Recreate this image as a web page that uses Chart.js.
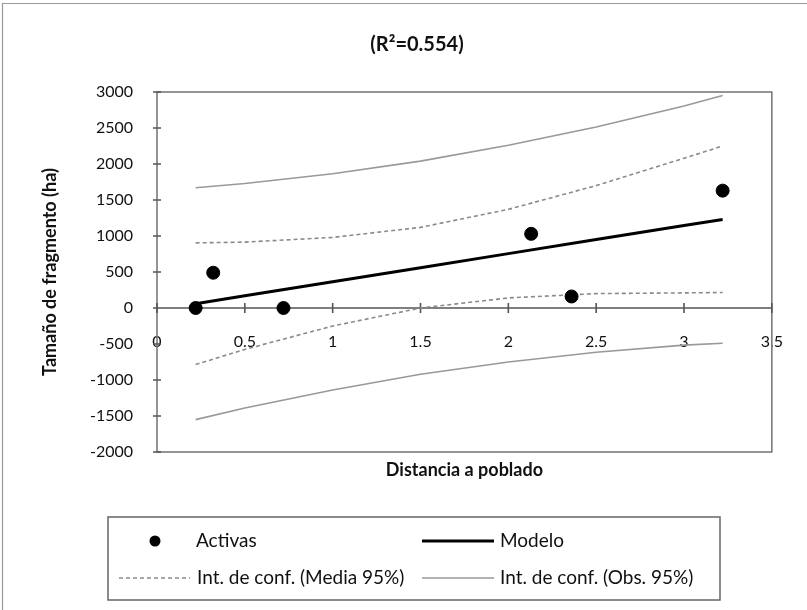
<!DOCTYPE html>
<html>
<head>
<meta charset="utf-8">
<title>Tamaño de fragmento</title>
<script src="https://cdn.jsdelivr.net/npm/chart.js@4.4.1/dist/chart.umd.min.js"></script>
<style>
  html, body { margin: 0; padding: 0; background: #fff; }
  canvas { display: block; }
</style>
</head>
<body>
<canvas id="myChart" width="807" height="610"></canvas>
<script>
// fragmentos activos
var distActivas = [0.22, 0.32, 0.72, 2.13, 2.36, 3.22];
var sizeActivas = [0, 490, 0, 1030, 160, 1630];

// modelo y bandas de confianza, leidos a lo largo de la distancia
var distModelo = [0.22, 0.5, 1.0, 1.5, 2.0, 2.5, 3.0, 3.22];
var sizeModelo = [60, 170, 365, 560, 755, 950, 1145, 1230];
var mediaSup = [905, 915, 980, 1120, 1370, 1700, 2080, 2250];
var mediaInf = [-785, -575, -250, 0, 140, 200, 210, 215];
var obsSup = [1670, 1730, 1865, 2040, 2260, 2515, 2805, 2950];
var obsInf = [-1550, -1390, -1140, -920, -750, -615, -515, -490];

var yTicks = [-2000, -1500, -1000, -500, 0, 500, 1000, 1500, 2000, 2500, 3000];
var xTicks = [0, 0.5, 1, 1.5, 2, 2.5, 3, 3.5];

var FONT = 'Lato, "Open Sans", sans-serif';

function pts(xs, ys) {
    return xs.map(function (x, i) { return { x: x, y: ys[i] }; });
}

// marco del area de trazado + marcas cruzadas en los ejes
var frame = {
    id: 'frame',
    beforeDatasetsDraw: function (chart) {
        var c = chart.ctx, a = chart.chartArea;
        var sx = chart.scales.x, sy = chart.scales.y;
        var y0 = sy.getPixelForValue(0);
        c.save();
        c.strokeStyle = '#7a7a7a';
        c.lineWidth = 1.6;
        c.strokeRect(a.left, a.top, a.right - a.left, a.bottom - a.top);
        c.strokeStyle = '#555';
        c.beginPath();
        c.moveTo(a.left, y0); c.lineTo(a.right, y0);
        yTicks.forEach(function (v) {
            var p = sy.getPixelForValue(v);
            c.moveTo(a.left - 4, p); c.lineTo(a.left + 4, p);
        });
        xTicks.forEach(function (v) {
            var p = sx.getPixelForValue(v);
            c.moveTo(p, y0 - 5); c.lineTo(p, y0 + 5);
        });
        c.stroke();
        // borde exterior (izquierda y arriba)
        c.strokeStyle = '#9a9a9a';
        c.lineWidth = 1.2;
        c.beginPath();
        c.moveTo(2.5, chart.height); c.lineTo(2.5, 3.5); c.lineTo(chart.width, 3.5);
        c.stroke();
        c.restore();
    }
};

// leyenda en recuadro de dos columnas
var legendBox = {
    id: 'legendBox',
    afterDraw: function (chart) {
        var c = chart.ctx, ds = chart.data.datasets;
        var box = { left: 108, top: chart.chartArea.bottom + 65, w: 612, h: 83 };
        c.save();
        c.strokeStyle = '#666';
        c.lineWidth = 1.5;
        c.strokeRect(box.left, box.top, box.w, box.h);
        c.font = '19px ' + FONT;
        c.fillStyle = '#111';
        c.textBaseline = 'middle';
        var row1 = box.top + 24, row2 = box.top + 61;
        var items = [
            { d: ds[0], x0: 145, x1: 165, tx: 196, y: row1 },
            { d: ds[1], x0: 422, x1: 494, tx: 500, y: row1 },
            { d: ds[2], x0: 119, x1: 190, tx: 197, y: row2 },
            { d: ds[4], x0: 422, x1: 494, tx: 500, y: row2 }
        ];
        items.forEach(function (it) {
            var d = it.d;
            if (d.showLine === false) {
                c.fillStyle = d.backgroundColor;
                c.beginPath();
                c.arc((it.x0 + it.x1) / 2, it.y, 5.5, 0, Math.PI * 2);
                c.fill();
            } else {
                c.strokeStyle = d.borderColor;
                c.lineWidth = d.borderWidth;
                c.setLineDash(d.borderDash || []);
                c.beginPath();
                c.moveTo(it.x0, it.y); c.lineTo(it.x1, it.y);
                c.stroke();
                c.setLineDash([]);
            }
            c.fillStyle = '#111';
            c.fillText(d.label, it.tx, it.y);
        });
        c.restore();
    }
};

var ctx = document.getElementById('myChart').getContext('2d');
var myChart = new Chart(ctx, {
    type: 'scatter',
    data: {
        datasets: [{
            label: 'Activas',
            data: pts(distActivas, sizeActivas),
            showLine: false,
            pointRadius: 6.5,
            backgroundColor: '#000',
            borderColor: '#000'
        }, {
            label: 'Modelo',
            data: pts(distModelo, sizeModelo),
            showLine: true,
            pointRadius: 0,
            borderColor: '#000',
            borderWidth: 3
        }, {
            label: 'Int. de conf. (Media 95%)',
            data: pts(distModelo, mediaSup),
            showLine: true,
            pointRadius: 0,
            borderColor: '#8a8a8a',
            borderWidth: 1.6,
            borderDash: [4, 3]
        }, {
            label: 'Int. de conf. (Media 95%)',
            data: pts(distModelo, mediaInf),
            showLine: true,
            pointRadius: 0,
            borderColor: '#8a8a8a',
            borderWidth: 1.6,
            borderDash: [4, 3]
        }, {
            label: 'Int. de conf. (Obs. 95%)',
            data: pts(distModelo, obsSup),
            showLine: true,
            pointRadius: 0,
            borderColor: '#999',
            borderWidth: 1.6
        }, {
            label: 'Int. de conf. (Obs. 95%)',
            data: pts(distModelo, obsInf),
            showLine: true,
            pointRadius: 0,
            borderColor: '#999',
            borderWidth: 1.6
        }]
    },
    options: {
        responsive: false,
        animation: false,
        layout: { padding: { left: 57, right: 30, top: 0, bottom: 128 } },
        plugins: {
            legend: { display: false },
            tooltip: { enabled: false },
            title: {
                display: true,
                text: '(R²=0.554)',
                color: '#111',
                font: { family: FONT, size: 20, weight: 'bold' },
                padding: { top: 33, bottom: 35 }
            }
        },
        scales: {
            x: {
                type: 'linear',
                min: 0,
                max: 3.5,
                grid: { display: false },
                border: { display: false },
                ticks: { display: false },
                title: {
                    display: true,
                    text: 'Distancia a poblado',
                    color: '#111',
                    font: { family: FONT, size: 18, weight: 'bold' },
                    padding: { top: 0, bottom: 1 }
                },
                afterFit: function (s) { s.height = 30; }
            },
            x0: {
                type: 'linear',
                position: { y: 0 },
                min: 0,
                max: 3.5,
                grid: { display: false, drawTicks: false },
                border: { display: false },
                afterBuildTicks: function (s) {
                    s.ticks = xTicks.map(function (v) { return { value: v }; });
                },
                ticks: {
                    padding: 24,
                    color: '#111',
                    font: { family: FONT, size: 16 },
                    callback: function (v) { return String(v); }
                }
            },
            y: {
                min: -2000,
                max: 3000,
                grid: { display: false, drawTicks: false },
                border: { display: false },
                afterBuildTicks: function (s) {
                    s.ticks = yTicks.map(function (v) { return { value: v }; });
                },
                ticks: {
                    padding: 24,
                    color: '#111',
                    font: { family: FONT, size: 16 },
                    callback: function (v) { return String(v); }
                },
                title: {
                    display: true,
                    text: 'Tamaño de fragmento (ha)',
                    color: '#111',
                    font: { family: FONT, size: 18, weight: 'bold' },
                    padding: { top: -18, bottom: 0 }
                },
                afterFit: function (s) { s.width = 100; }
            }
        }
    },
    plugins: [frame, legendBox]
});
</script>
</body>
</html>
